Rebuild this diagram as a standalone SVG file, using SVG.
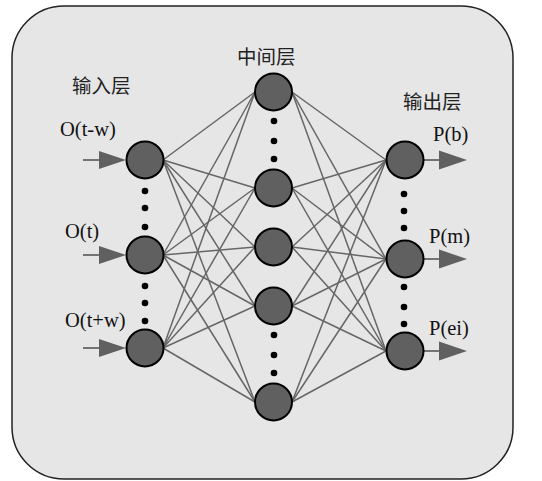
<svg xmlns="http://www.w3.org/2000/svg" width="542" height="481" viewBox="0 0 542 481">
<style>
.node{fill:#606060;stroke:#000;stroke-width:2}
.edge{stroke:#666;stroke-width:1.5;fill:none}
.arr{stroke:#666;stroke-width:1.8}
.tri{fill:#606060}
.dot{fill:#000}
.cn{font-family:"Noto Sans CJK SC","Noto Sans CJK JP",sans-serif;font-size:19.5px;fill:#222}
.lb{font-family:"Liberation Serif",serif;font-size:20.5px;fill:#111}
</style>
<rect x="12" y="6" width="501" height="473" rx="52" ry="52" fill="#e6e6e6" stroke="#222" stroke-width="1.5"/>
<g id="connectors">
<g class="edge">
<line x1="163" y1="160" x2="255" y2="92"/><line x1="163" y1="160" x2="255" y2="188"/><line x1="163" y1="160" x2="255" y2="247"/><line x1="163" y1="160" x2="255" y2="306"/><line x1="163" y1="160" x2="255" y2="402"/>
<line x1="163" y1="255" x2="255" y2="92"/><line x1="163" y1="255" x2="255" y2="188"/><line x1="163" y1="255" x2="255" y2="247"/><line x1="163" y1="255" x2="255" y2="306"/><line x1="163" y1="255" x2="255" y2="402"/>
<line x1="163" y1="348" x2="255" y2="92"/><line x1="163" y1="348" x2="255" y2="188"/><line x1="163" y1="348" x2="255" y2="247"/><line x1="163" y1="348" x2="255" y2="306"/><line x1="163" y1="348" x2="255" y2="402"/>
<line x1="292" y1="92" x2="386" y2="160"/><line x1="292" y1="92" x2="386" y2="259"/><line x1="292" y1="92" x2="386" y2="351"/>
<line x1="292" y1="188" x2="386" y2="160"/><line x1="292" y1="188" x2="386" y2="259"/><line x1="292" y1="188" x2="386" y2="351"/>
<line x1="292" y1="247" x2="386" y2="160"/><line x1="292" y1="247" x2="386" y2="259"/><line x1="292" y1="247" x2="386" y2="351"/>
<line x1="292" y1="306" x2="386" y2="160"/><line x1="292" y1="306" x2="386" y2="259"/><line x1="292" y1="306" x2="386" y2="351"/>
<line x1="292" y1="402" x2="386" y2="160"/><line x1="292" y1="402" x2="386" y2="259"/><line x1="292" y1="402" x2="386" y2="351"/>
</g>
<g id="in-arrows">
<line class="arr" x1="83" y1="160" x2="102" y2="160"/><polygon class="tri" points="99,151 126,160 99,169"/>
<line class="arr" x1="83" y1="255" x2="102" y2="255"/><polygon class="tri" points="99,246 126,255 99,264"/>
<line class="arr" x1="83" y1="348" x2="102" y2="348"/><polygon class="tri" points="99,339 126,348 99,357"/>
</g>
<g id="out-arrows">
<line class="arr" x1="424" y1="160" x2="442" y2="160"/><polygon class="tri" points="439,150.5 467,160 439,169.5"/>
<line class="arr" x1="424" y1="259" x2="442" y2="259"/><polygon class="tri" points="439,249.5 467,259 439,268.5"/>
<line class="arr" x1="424" y1="351" x2="442" y2="351"/><polygon class="tri" points="439,341.5 467,351 439,360.5"/>
</g>
</g>
<g id="input-layer">
<text class="cn" x="72" y="93">输入层</text>
<g id="in1"><circle class="node" cx="145" cy="160" r="18.5"/><text class="lb" x="60" y="136">O(t-w)</text></g>
<g id="in2"><circle class="node" cx="145" cy="255" r="18.5"/><text class="lb" x="65" y="238">O(t)</text></g>
<g id="in3"><circle class="node" cx="145" cy="348" r="18.5"/><text class="lb" x="65" y="327">O(t+w)</text></g>
<g class="dot"><circle cx="145" cy="191" r="3.3"/><circle cx="145" cy="208" r="3.3"/><circle cx="145" cy="227" r="3.3"/><circle cx="145" cy="286" r="3.3"/><circle cx="145" cy="303" r="3.3"/><circle cx="145" cy="321" r="3.3"/></g>
</g>
<g id="hidden-layer">
<text class="cn" x="237" y="64">中间层</text>
<g id="h1"><circle class="node" cx="273.5" cy="92" r="18.5"/></g>
<g id="h2"><circle class="node" cx="273.5" cy="188" r="18.5"/></g>
<g id="h3"><circle class="node" cx="273.5" cy="247" r="18.5"/></g>
<g id="h4"><circle class="node" cx="273.5" cy="306" r="18.5"/></g>
<g id="h5"><circle class="node" cx="273.5" cy="402" r="18.5"/></g>
<g class="dot"><circle cx="274" cy="121" r="3.3"/><circle cx="274" cy="141" r="3.3"/><circle cx="274" cy="159" r="3.3"/><circle cx="274" cy="335" r="3.3"/><circle cx="274" cy="355" r="3.3"/><circle cx="274" cy="373" r="3.3"/></g>
</g>
<g id="output-layer">
<text class="cn" x="403" y="109">输出层</text>
<g id="out1"><circle class="node" cx="405" cy="160" r="18.5"/><text class="lb" x="433" y="141">P(b)</text></g>
<g id="out2"><circle class="node" cx="405" cy="259" r="18.5"/><text class="lb" x="429" y="243">P(m)</text></g>
<g id="out3"><circle class="node" cx="405" cy="351" r="18.5"/><text class="lb" x="429" y="335">P(ei)</text></g>
<g class="dot"><circle cx="404" cy="194" r="3.3"/><circle cx="404" cy="211" r="3.3"/><circle cx="404" cy="228" r="3.3"/><circle cx="404" cy="287" r="3.3"/><circle cx="404" cy="307" r="3.3"/><circle cx="404" cy="324" r="3.3"/></g>
</g>
</svg>
